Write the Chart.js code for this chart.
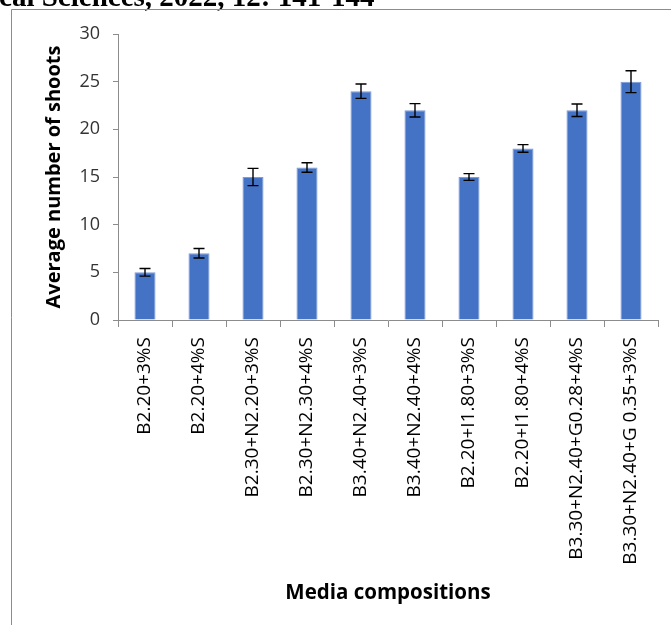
<!DOCTYPE html>
<html>
<head>
<meta charset="utf-8">
<script src="https://cdn.jsdelivr.net/npm/chart.js@4/dist/chart.umd.min.js"></script>
<style>
  html, body { margin: 0; padding: 0; background: #fff; }
  #wrap { position: relative; width: 671px; height: 625px; }
</style>
</head>
<body>
<div id="wrap"><canvas id="shoots"></canvas></div>
<script>
// data
const media = [
  'B2.20+3%S', 'B2.20+4%S', 'B2.30+N2.20+3%S', 'B2.30+N2.30+4%S', 'B3.40+N2.40+3%S',
  'B3.40+N2.40+4%S', 'B2.20+I1.80+3%S', 'B2.20+I1.80+4%S', 'B3.30+N2.40+G0.28+4%S', 'B3.30+N2.40+G 0.35+3%S'
];
const shoots = [5, 7, 15, 16, 24, 22, 15, 18, 22, 25];
const shootsErr = [0.4, 0.5, 0.9, 0.5, 0.75, 0.7, 0.35, 0.4, 0.65, 1.15];
const yTicks = [0, 5, 10, 15, 20, 25, 30];

const axisGray = '#8c8c8c';

// page furniture: cut-off journal line and the frame round the chart
const framePlugin = {
  id: 'frame',
  beforeDraw(chart) {
    const c = chart.ctx;
    c.save();
    c.fillStyle = '#000';
    c.font = 'bold 29px "Liberation Serif", serif';
    c.textBaseline = 'alphabetic';
    c.fillText('ical Sciences, 2022, 12: 141-144', -9, 6);
    c.strokeStyle = '#8c8c8c';
    c.lineWidth = 1;
    c.beginPath();
    c.moveTo(11.5, 625);
    c.lineTo(11.5, 9.5);
    c.lineTo(671, 9.5);
    c.stroke();
    c.restore();
  }
};

// error bars drawn on the bar positions
const errorBars = {
  id: 'errorBars',
  afterDatasetsDraw(chart) {
    const c = chart.ctx;
    const y = chart.scales.y;
    const meta = chart.getDatasetMeta(0);
    c.save();
    c.strokeStyle = '#000';
    c.lineWidth = 1.4;
    meta.data.forEach((bar, i) => {
      const top = y.getPixelForValue(shoots[i] + shootsErr[i]);
      const bot = y.getPixelForValue(shoots[i] - shootsErr[i]);
      c.beginPath();
      c.moveTo(bar.x, top); c.lineTo(bar.x, bot);
      c.moveTo(bar.x - 5.5, top); c.lineTo(bar.x + 5.5, top);
      c.moveTo(bar.x - 5.5, bot); c.lineTo(bar.x + 5.5, bot);
      c.stroke();
    });
    c.restore();
  }
};

new Chart(document.getElementById('shoots'), {
  type: 'bar',
  data: {
    labels: media,
    datasets: [{
      data: shoots,
      backgroundColor: '#4472C4',
      borderColor: '#7d9bd6',
      borderWidth: 1,
      categoryPercentage: 1,
      barPercentage: 0.39
    }]
  },
  options: {
    responsive: true,
    maintainAspectRatio: false,
    animation: false,
    layout: { padding: { left: 42, right: 13, top: 34, bottom: 20 } },
    plugins: { legend: { display: false }, tooltip: { enabled: false } },
    scales: {
      x: {
        afterFit(s) { s.height = 285; },
        border: { color: axisGray, width: 1 },
        grid: { drawOnChartArea: false, drawTicks: true, tickLength: 7, color: axisGray, offset: true },
        ticks: {
          color: '#000',
          font: { family: '"Open Sans", sans-serif', size: 19 },
          minRotation: 90, maxRotation: 90, autoSkip: false, padding: 10
        },
        title: {
          display: true, text: 'Media compositions', color: '#000',
          font: { family: '"Open Sans", sans-serif', size: 20.5, weight: 'bold' },
          padding: 0
        }
      },
      y: {
        min: 0, max: 30,
        afterFit(s) { s.width = 76; },
        afterBuildTicks(s) { s.ticks = yTicks.map(v => ({ value: v })); },
        border: { color: axisGray, width: 1 },
        grid: { drawOnChartArea: false, drawTicks: true, tickLength: 5, color: axisGray },
        ticks: {
          color: '#333',
          font: { family: '"Open Sans", sans-serif', size: 18 },
          padding: 13
        },
        title: {
          display: true, text: 'Average number of shoots', color: '#000',
          font: { family: '"Open Sans", sans-serif', size: 20, weight: 'bold' },
          padding: 0
        }
      }
    }
  },
  plugins: [framePlugin, errorBars]
});
</script>
</body>
</html>
